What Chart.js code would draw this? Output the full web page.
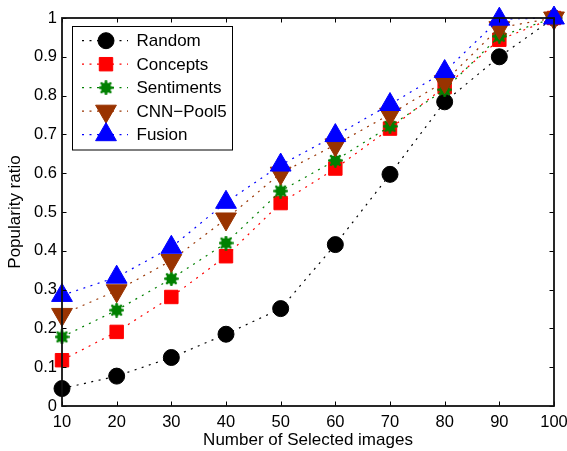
<!DOCTYPE html>
<html><head><meta charset="utf-8">
<script src="https://cdn.jsdelivr.net/npm/chart.js@4/dist/chart.umd.min.js"></script>
<style>html,body{margin:0;padding:0;background:#fff;}#wrap{width:567px;height:451px;position:relative;}</style>
</head><body><div id="wrap"><canvas id="c" width="567" height="451"></canvas></div>
<script>
const categories = [10, 20, 30, 40, 50, 60, 70, 80, 90, 100];
const seriesNames = ['Random', 'Concepts', 'Sentiments', 'CNN\u2212Pool5', 'Fusion'];
const randomVals     = [0.045, 0.077, 0.125, 0.185, 0.251, 0.416, 0.597, 0.784, 0.900, 1.0];
const conceptsVals   = [0.118, 0.191, 0.281, 0.386, 0.523, 0.612, 0.715, 0.822, 0.944, 1.0];
const sentimentsVals = [0.178, 0.247, 0.328, 0.420, 0.554, 0.633, 0.721, 0.815, 0.953, 1.0];
const cnnVals        = [0.236, 0.297, 0.375, 0.482, 0.600, 0.673, 0.752, 0.836, 0.975, 1.0];
const fusionVals     = [0.285, 0.332, 0.409, 0.525, 0.621, 0.697, 0.777, 0.862, 0.997, 1.0];
const xTicks = [10, 20, 30, 40, 50, 60, 70, 80, 90, 100];
const yTicks = [0, 0.1, 0.2, 0.3, 0.4, 0.5, 0.6, 0.7, 0.8, 0.9, 1];
const xTitle = 'Number of Selected images';
const yTitle = 'Popularity ratio';

const FONT = '"Liberation Sans", Arial, Helvetica, sans-serif';

// custom spiky marker for Sentiments
function makeStar(color) {
  const cv = document.createElement('canvas');
  cv.width = 15; cv.height = 15;
  const g = cv.getContext('2d');
  g.fillStyle = color; g.strokeStyle = color;
  g.beginPath(); g.arc(7.5, 7.5, 5.2, 0, Math.PI * 2); g.fill();
  g.lineWidth = 2.6; g.lineCap = 'round';
  for (let i = 0; i < 8; i++) {
    const a = i * Math.PI / 4;
    g.beginPath(); g.moveTo(7.5, 7.5);
    g.lineTo(7.5 + Math.cos(a) * 6.2, 7.5 + Math.sin(a) * 6.2); g.stroke();
  }
  return cv;
}

const colors = ['#000000', '#ff0000', '#008000', '#993300', '#0000ff'];
const styles = [
  {pointStyle: 'circle', radius: 8, rotation: 0},
  {pointStyle: 'rect', radius: 9.5, rotation: 0},
  {pointStyle: makeStar('#008000'), radius: 7, rotation: 0},
  {pointStyle: 'triangle', radius: 12, rotation: 180},
  {pointStyle: 'triangle', radius: 12, rotation: 0}
];
const valuesList = [randomVals, conceptsVals, sentimentsVals, cnnVals, fusionVals];

const datasets = valuesList.map((vals, i) => ({
  label: seriesNames[i],
  data: categories.map((c, j) => ({x: c, y: vals[j]})),
  borderColor: colors[i],
  backgroundColor: colors[i],
  borderWidth: 1.2,
  borderDash: [2, 5.5],
  pointStyle: styles[i].pointStyle,
  pointRadius: styles[i].radius,
  pointRotation: styles[i].rotation,
  pointBorderWidth: 1,
  pointBorderColor: colors[i],
  pointBackgroundColor: colors[i],
  pointHoverRadius: styles[i].radius,
  tension: 0,
  clip: false,
  order: 5 - i
}));

const framePlugin = {
  id: 'frame',
  afterDraw(chart) {
    const ctx = chart.ctx;
    const a = chart.chartArea;
    const xs = chart.scales.x, ys = chart.scales.y;
    ctx.save();
    ctx.strokeStyle = '#000';
    ctx.lineWidth = 1;
    const tl = 4.5;
    ctx.beginPath();
    xTicks.forEach(v => {
      const px = Math.round(xs.getPixelForValue(v)) + 0.5;
      ctx.moveTo(px, a.bottom); ctx.lineTo(px, a.bottom - tl);
      ctx.moveTo(px, a.top); ctx.lineTo(px, a.top + tl);
    });
    yTicks.forEach(v => {
      const py = Math.round(ys.getPixelForValue(v)) + 0.5;
      ctx.moveTo(a.left, py); ctx.lineTo(a.left + tl, py);
      ctx.moveTo(a.right, py); ctx.lineTo(a.right - tl, py);
    });
    ctx.stroke();
    ctx.lineWidth = 1.8;
    ctx.strokeStyle = '#111';
    ctx.strokeRect(Math.round(a.left), Math.round(a.top), Math.round(a.right - a.left), Math.round(a.bottom - a.top));

    // legend
    const lx = 72.5, ly = 26.5, lw = 160, lh = 123.5;
    ctx.fillStyle = '#fff';
    ctx.fillRect(lx, ly, lw, lh);
    ctx.lineWidth = 1;
    ctx.strokeStyle = '#000';
    ctx.strokeRect(lx, ly, lw, lh);
    const rowY = [40.7, 64.2, 87.7, 111.2, 134.7];
    chart.data.datasets.forEach((ds, i) => {
      const y = rowY[i];
      ctx.save();
      ctx.strokeStyle = ds.borderColor;
      ctx.lineWidth = ds.borderWidth;
      ctx.setLineDash(ds.borderDash);
      ctx.beginPath(); ctx.moveTo(82, y); ctx.lineTo(128, y); ctx.stroke();
      ctx.setLineDash([]);
      ctx.fillStyle = ds.backgroundColor;
      ctx.strokeStyle = ds.borderColor;
      ctx.lineWidth = 1;
      Chart.helpers.drawPoint(ctx, {pointStyle: ds.pointStyle, radius: ds.pointRadius, rotation: ds.pointRotation, borderWidth: 1}, 106, y);
      ctx.restore();
      ctx.fillStyle = '#000';
      ctx.font = '17px ' + FONT;
      ctx.textAlign = 'left';
      ctx.textBaseline = 'middle';
      ctx.fillText(ds.label, 136.5, y + 1);
    });
    ctx.restore();
  }
};

new Chart(document.getElementById('c'), {
  type: 'line',
  data: {datasets},
  options: {
    responsive: false,
    animation: false,
    devicePixelRatio: 1,
    layout: {padding: {top: 18, right: 13, left: 0, bottom: 0}},
    plugins: {legend: {display: false}, tooltip: {enabled: false}},
    scales: {
      x: {
        type: 'linear', min: 10, max: 100,
        afterBuildTicks: s => { s.ticks = xTicks.map(v => ({value: v})); },
        afterFit: s => { s.height = 45; s.paddingLeft = 0; s.paddingRight = 0; },
        grid: {display: false, drawTicks: false},
        border: {display: false},
        ticks: {color: '#000', font: {family: FONT, size: 16.5}, padding: 7, maxRotation: 0, autoSkip: false,
          callback: v => String(v)},
        title: {display: true, text: xTitle, color: '#000', font: {family: FONT, size: 17}, padding: {top: 0, bottom: 0}}
      },
      y: {
        type: 'linear', min: 0, max: 1,
        afterBuildTicks: s => { s.ticks = yTicks.map(v => ({value: v})); },
        afterFit: s => { s.width = 62; s.paddingTop = 0; s.paddingBottom = 0; },
        grid: {display: false, drawTicks: false},
        border: {display: false},
        ticks: {color: '#000', font: {family: FONT, size: 16.5}, padding: 5, autoSkip: false,
          callback: v => String(+Number(v).toFixed(1))},
        title: {display: true, text: yTitle, color: '#000', font: {family: FONT, size: 17}, padding: {top: 5, bottom: 0}}
      }
    }
  },
  plugins: [framePlugin]
});
</script></body></html>
